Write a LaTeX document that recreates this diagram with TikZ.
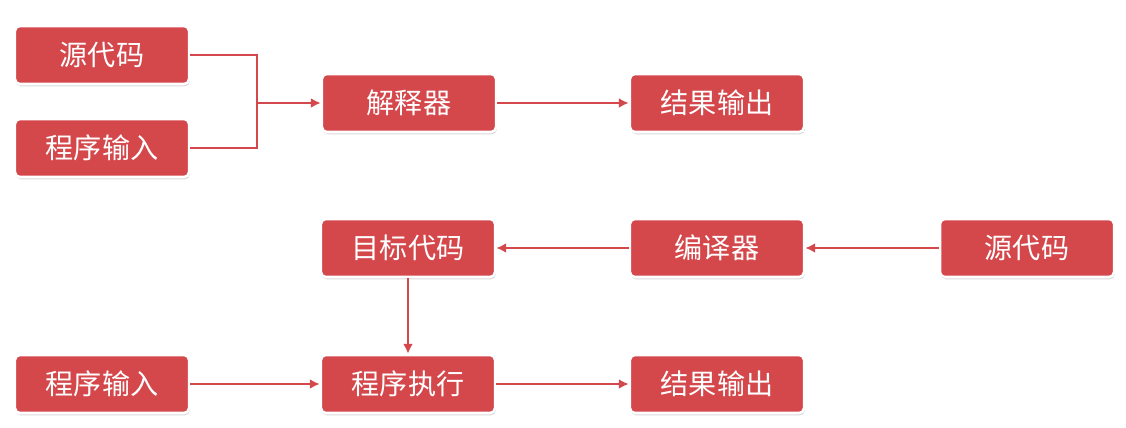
\documentclass[tikz,border=0pt]{standalone}
\usepackage{fontspec}
\newfontfamily\cjk{Noto Sans CJK SC}
\usetikzlibrary{shadows,arrows.meta}
\definecolor{boxred}{HTML}{D4474B}
\tikzset{
  box/.style={draw=white, line width=1.8pt, fill=boxred, rounded corners=3.5pt,
    minimum width=4.35cm, minimum height=1.45cm, inner sep=0pt,
    text=white, font=\cjk\fontsize{20}{23}\selectfont,
    drop shadow={opacity=0.3, shadow xshift=0.6pt, shadow yshift=-1.6pt}},
  link/.style={boxred, line width=1.8pt},
  arr/.style={link, -{Latex[length=7pt,width=7pt]}}
}
\begin{document}
\begin{tikzpicture}[x=0.025cm, y=-0.025cm]
     \useasboundingbox (0,0) rectangle (1126,428);
     % interpreter
     \node[box] (src1) at (102,55) {源代码};
     \node[box] (inp1) at (102,148) {程序输入};
     \node[box] (interp) at (409,103) {解释器};
     \node[box] (out1) at (717,103) {结果输出};
     \coordinate (j) at (257,103);
     \draw[link] (src1.east) -| (j);
     \draw[link] (inp1.east) -| (j);
     \draw[arr] (j) -- (interp.west);
     \draw[arr] (interp.east) -- (out1.west);
     % compiler
     \node[box] (obj) at (408,248) {目标代码};
     \node[box] (comp) at (717,248) {编译器};
     \node[box] (src2) at (1027,248) {源代码};
     \node[box] (inp2) at (102,384) {程序输入};
     \node[box] (run) at (408,384) {程序执行};
     \node[box] (out2) at (717,384) {结果输出};
     \draw[arr] (src2.west) -- (comp.east);
     \draw[arr] (comp.west) -- (obj.east);
     \draw[arr] (obj.south) -- (run.north);
     \draw[arr] (inp2.east) -- (run.west);
     \draw[arr] (run.east) -- (out2.west);
\end{tikzpicture}
\end{document}
